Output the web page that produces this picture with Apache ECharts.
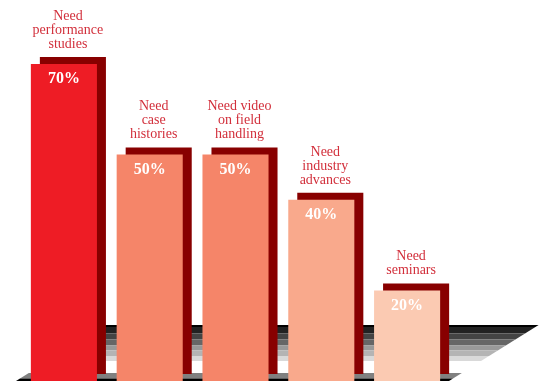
<!DOCTYPE html>
<html>
<head>
<meta charset="utf-8">
<script src="https://cdn.jsdelivr.net/npm/echarts@6/dist/echarts.min.js"></script>
<style>html,body{margin:0;padding:0;background:#fff;}#c{width:539px;height:381px;}</style>
</head>
<body>
<div id="c"></div>
<script>
var categories = ["Need\nperformance\nstudies", "Need\ncase\nhistories", "Need video\non field\nhandling", "Need\nindustry\nadvances", "Need\nseminars"];
var values = [70, 50, 50, 40, 20];
var barColors = ["#ee1c25", "#f58569", "#f58569", "#f9a98c", "#fbcab2"];
var shadowColor = "#880000";

var chart = echarts.init(document.getElementById('c'));

function stripe(y1, y2, color) {
  function xL(y) { return 16 + (381 - y) * 1.6; }
  var w = 433;
  return {
    type: 'polygon', silent: true, z: 0,
    shape: { points: [[xL(y1), y1], [xL(y1) + w, y1], [xL(y2) + w, y2], [xL(y2), y2]] },
    style: { fill: color }
  };
}

var floor = [
  stripe(325, 327, '#000000'),
  stripe(327, 333.5, '#222222'),
  stripe(333.5, 339.5, '#444444'),
  stripe(339.5, 345.5, '#666666'),
  stripe(345.5, 350.5, '#999999'),
  stripe(350.5, 356, '#b4b4b4'),
  stripe(356, 361, '#d9d9d9'),
  stripe(373, 378.5, '#808080'),
  stripe(378.5, 381, '#000000')
];

function renderItem(params, api) {
  var i = params.dataIndex;
  var top = api.coord([api.value(0), api.value(1)]);
  var base = api.coord([api.value(0), 0]);
  var band = api.size([1, 0])[0];
  var w = band * 0.77;
  var x = top[0] - w / 2;
  var h = base[1] - top[1];
  var dx = 9, dy = -7;
  return {
    type: 'group',
    children: [
      { type: 'rect', shape: { x: x + dx, y: top[1] + dy, width: w, height: h }, style: { fill: shadowColor } },
      { type: 'rect', shape: { x: x, y: top[1], width: w, height: h }, style: { fill: barColors[i] } },
      { type: 'text', style: { text: values[i] + '%', x: top[0], y: top[1] + 15, align: 'center', verticalAlign: 'middle',
          fill: '#ffffff', fontFamily: 'Liberation Serif', fontWeight: 'bold', fontSize: 16 } },
      { type: 'text', style: { text: categories[i], x: top[0] + 4, y: top[1] + dy - 6, align: 'center', verticalAlign: 'bottom',
          fill: '#d22f3b', fontFamily: 'Liberation Serif', fontSize: 14, lineHeight: 14 } }
    ]
  };
}

chart.setOption({
  animation: false,
  backgroundColor: '#ffffff',
  grid: { left: 21, top: 64, width: 429, height: 319, containLabel: false },
  xAxis: { type: 'category', data: categories, show: false },
  yAxis: { type: 'value', min: 0, max: 70, show: false, splitLine: { show: false } },
  graphic: floor,
  series: [{
    type: 'custom',
    clip: false,
    z: 5,
    renderItem: renderItem,
    encode: { x: 0, y: 1 },
    data: values.map(function (v, i) { return [i, v]; })
  }]
});
</script>
</body>
</html>
